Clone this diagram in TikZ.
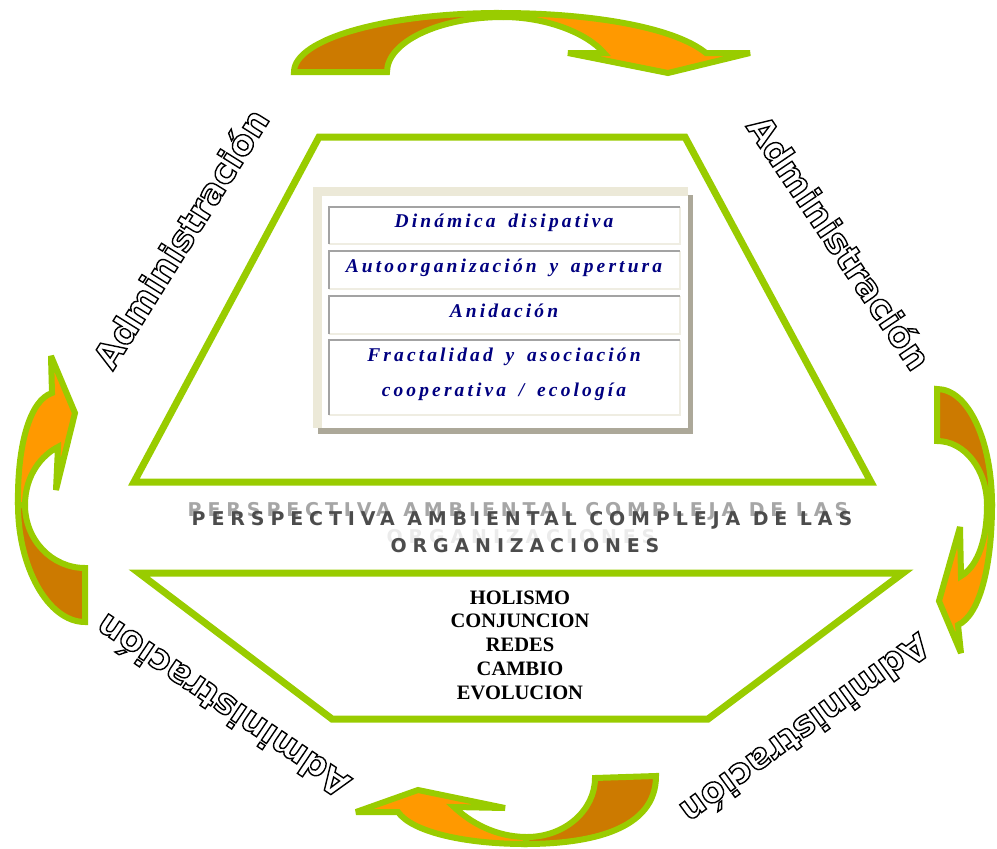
\documentclass[tikz,border=0pt]{standalone}
\usepackage{fontspec}
\setmainfont{Liberation Serif}
\newfontfamily\boxfont[LetterSpace=16, WordSpace=1.6]{Liberation Serif}
\newfontfamily\titlefont[LetterSpace=31]{DejaVu Sans}
\newfontfamily\labelfont{DejaVu Sans}
\newcommand\outlined[1]{\special{pdf:literal direct 2 Tr 1.4 w 0 G}#1\special{pdf:literal direct 0 Tr}}

\definecolor{leafgreen}{HTML}{99CC00}
\definecolor{tailorange}{HTML}{CC7A00}
\definecolor{headorange}{HTML}{FF9900}
\definecolor{navytext}{HTML}{000080}
\definecolor{framebeige}{HTML}{ECE9D8}
\definecolor{frameshadow}{HTML}{ACA899}
\definecolor{cellgray}{HTML}{A3A3A3}
\definecolor{celllight}{HTML}{EFEDE2}

\tikzset{
  trapline/.style={draw=leafgreen, line width=7pt, line join=miter, fill=white},
  arrowline/.style={draw=leafgreen, line width=6pt, line join=miter, miter limit=4},
  celltext/.style={font=\fontsize{19.5}{35}\selectfont\boxfont\bfseries\itshape, text=navytext, align=center},
  titlemain/.style={font=\fontsize{19}{19}\selectfont\titlefont\bfseries, text=black!70},
  titleghost/.style={font=\fontsize{19}{19}\selectfont\titlefont\bfseries, text=black!35},
  listtext/.style={font=\fontsize{20.5}{23.8}\selectfont\bfseries, align=center},
  adminlabel/.style={font=\fontsize{35}{35}\selectfont\labelfont\bfseries, text=white}
}

\begin{document}
\begin{tikzpicture}[x=1pt, y=-1pt]
    \useasboundingbox (0,0) rectangle (997,849);

    % trapezoids
    \draw[trapline] (319,137) -- (685,137) -- (871,482) -- (134,482) -- cycle;
    \draw[trapline] (139,573) -- (903,573) -- (708,719) -- (332,719) -- cycle;

    % table frame
    \fill[frameshadow] (318,195) rectangle (693,434);
    \fill[framebeige] (313,187) rectangle (688,428);
    \fill[white] (322,196) rectangle (688,428);
    \foreach \ytop/\ybot in {207/244, 251/289, 296/334, 340/415}{
        \draw[celllight, line width=2pt] (329,\ybot) -- (680,\ybot) -- (680,\ytop);
        \draw[cellgray, line width=2pt] (329,\ybot) -- (329,\ytop) -- (680,\ytop);
    }

    \node[celltext] (dinamica)  at (504,223) {Dinámica disipativa};
    \node[celltext] (autoorg)   at (504,268) {Autoorganización y apertura};
    \node[celltext] (anidacion) at (504,311) {Anidación};
    \node[celltext] (fractal)   at (504,374) {Fractalidad y asociación\\cooperativa / ecología};

    % title between the trapezoids
    \node[titleghost] (ghostA) at (518,511) {PERSPECTIVA AMBIENTAL COMPLEJA DE LAS};
    \node[titlemain]  (titleA) at (522,520) {PERSPECTIVA AMBIENTAL COMPLEJA DE LAS};
    \node[titleghost, text=black!8] (ghostB) at (521,537) {ORGANIZACIONES};
    \node[titlemain]  (titleB) at (525,546) {ORGANIZACIONES};

    \node[listtext] (conceptos) at (520,645) {HOLISMO\\CONJUNCION\\REDES\\CAMBIO\\EVOLUCION};

    % top arrow
    \filldraw[arrowline, fill=tailorange] (294,72) .. controls (294,39) and (386,13) .. (500,13) -- (503,17) .. controls (439,17) and (387,42) .. (387,72) -- cycle;
    \filldraw[arrowline, fill=headorange] (500,13) .. controls (591,13) and (674,27) .. (706,53) -- (750,53) -- (668,73) -- (568,53) -- (604,53) .. controls (587,33) and (546,17) .. (503,17) -- cycle;

    % right arrow
    \filldraw[arrowline, fill=tailorange] (937,389) .. controls (968,389) and (992,440) .. (992,505) -- (987,505) .. controls (987,470) and (965,441) .. (937,441) -- cycle;
    \filldraw[arrowline, fill=headorange] (992,505) .. controls (992,565) and (980,615) .. (958,625) -- (961,653) -- (939,601) -- (960,527) -- (961,576) .. controls (975,568) and (987,545) .. (987,505) -- cycle;

    % bottom arrow
    \filldraw[arrowline, fill=tailorange] (656,776) .. controls (656,830) and (590,844) .. (525,844) -- (527,837) .. controls (565,837) and (595,810) .. (595,778) -- cycle;
    \filldraw[arrowline, fill=headorange] (525,844) .. controls (465,844) and (412,832) .. (398,812) -- (356,812) -- (418,790) -- (505,808) -- (454,807) .. controls (470,822) and (495,837) .. (527,837) -- cycle;

    % left arrow
    \filldraw[arrowline, fill=tailorange] (85,622) .. controls (48,622) and (18,567) .. (18,505) -- (25,505) .. controls (25,540) and (52,568) .. (85,568) -- cycle;
    \filldraw[arrowline, fill=headorange] (18,505) .. controls (17,445) and (30,400) .. (52,393) -- (51,356) -- (75,413) -- (56,490) -- (58,447) .. controls (42,455) and (25,475) .. (25,505) -- cycle;

    % labels
    \node[adminlabel, rotate=58]   (adminNW) at (180,238) {\outlined{Administración}};
    \node[adminlabel, rotate=-56]  (adminNE) at (840,242) {\outlined{Administración}};
    \node[adminlabel, rotate=146]  (adminSW) at (222,707) {\outlined{Administración}};
    \node[adminlabel, rotate=-144] (adminSE) at (806,730) {\outlined{Administración}};
\end{tikzpicture}
\end{document}
